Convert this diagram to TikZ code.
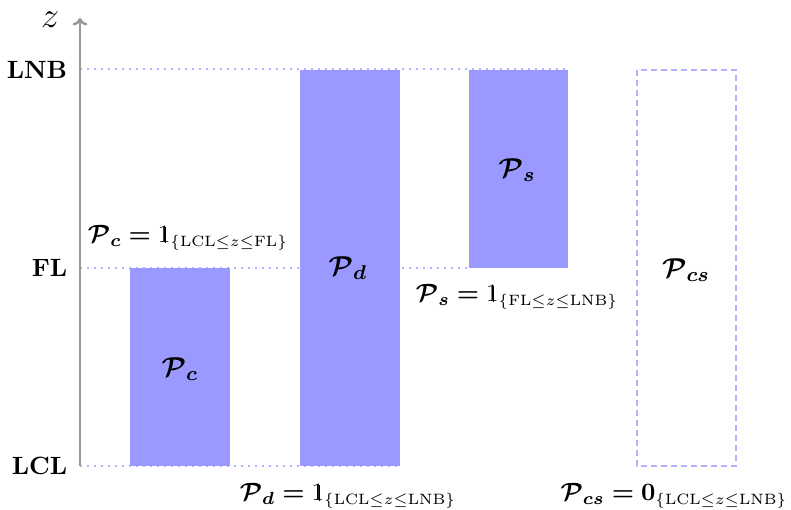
\documentclass[tikz,border=0pt]{standalone}
\usepackage{amsmath,amssymb,bm}
\usetikzlibrary{arrows.meta}
\newcommand{\indic}{\text{\ooalign{\normalfont 1\cr\hidewidth\kern0.12em\vrule width0.045em height0.645em\hidewidth\cr}}}
\newcommand{\subz}[1]{_{\text{\fontsize{6.2}{7}\selectfont$\{#1\}$}}}
\begin{document}
\begin{tikzpicture}[x=0.4pt,y=-0.4pt,
  bar/.style={fill=blue!40,draw=none},
  guide/.style={blue!30,dotted,line width=0.8pt},
  lvl/.style={anchor=east,font=\bfseries},
  inlab/.style={font=\fontsize{11}{13}\selectfont}]
\useasboundingbox (0,0) rectangle (791,510);
% guide lines
\draw[guide] (80,69.5) -- (568,69.5);
\draw[guide] (80,268) -- (469,268);
\draw[guide] (80,466) -- (400,466);
% bars
\fill[bar] (130,268) rectangle (230,466);
\fill[bar] (300,70) rectangle (400,466);
\fill[bar] (469,70) rectangle (568,268);
\draw[blue!30,dash pattern=on 2.4pt off 1.6pt,line width=0.5pt] (637,70) rectangle (736,466);
% axis
\draw[gray!80,line width=1pt,-{To[length=3pt,width=6pt]}] (80,466) -- (80,18);
\node (zl) at (50,20) {\Large $z$};
% levels
\node[lvl] (lnb) at (76,70) {LNB};
\node[lvl] (fl) at (76,268) {FL};
\node[lvl] (lcl) at (76,466) {LCL};
% inside labels
\node[inlab] (pcin) at (180,369) {$\bm{\mathcal{P}_c}$};
\node[inlab] (pdin) at (348,268) {$\bm{\mathcal{P}_d}$};
\node[inlab] (psin) at (517,170) {$\bm{\mathcal{P}_s}$};
\node[inlab] (pcsin) at (686,270) {$\bm{\mathcal{P}_{cs}}$};
% formulas
\node (pc) at (188,238) {$\bm{\mathcal{P}_c =} \indic\subz{\mathrm{LCL}{\le}z{\le}\mathrm{FL}}$};
\node (pd) at (348,496) {$\bm{\mathcal{P}_d =} \indic\subz{\mathrm{LCL}{\le}z{\le}\mathrm{LNB}}$};
\node (ps) at (517,297) {$\bm{\mathcal{P}_s =} \indic\subz{\mathrm{FL}{\le}z{\le}\mathrm{LNB}}$};
\node[anchor=east,inner sep=0pt] (pcs) at (788,496) {$\bm{\mathcal{P}_{cs} = 0}\subz{\mathrm{LCL}{\le}z{\le}\mathrm{LNB}}$};
\end{tikzpicture}
\end{document}
